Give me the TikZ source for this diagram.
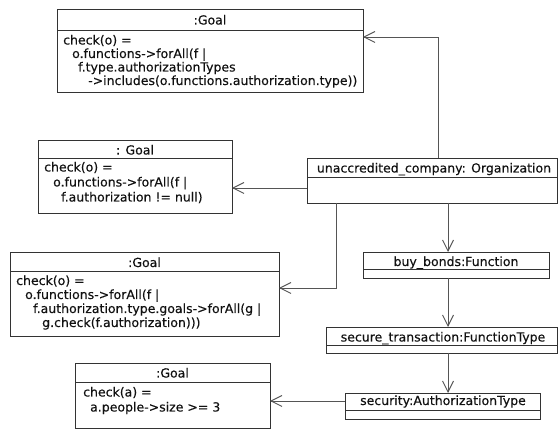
\documentclass[tikz,border=0pt]{standalone}
\usepackage{fontspec}
\setmainfont{DejaVu Sans}[FakeBold=0.25]
\usetikzlibrary{arrows.meta}
\definecolor{bordercol}{HTML}{333333}
\definecolor{conncol}{HTML}{555555}
\definecolor{txtcol}{HTML}{111111}
\newcommand\umlfont{\fontsize{12.5}{14}\selectfont}
\begin{document}
\begin{tikzpicture}[x=1pt,y=-1pt,
  umlbox/.style={draw=bordercol, line width=0.9pt, fill=white, anchor=north west, inner sep=0pt, outer sep=0pt},
  hdr/.style={font=\umlfont, text=txtcol, inner sep=0pt, anchor=base},
  lbl/.style={font=\umlfont, text=txtcol, inner sep=0pt, anchor=base west},
  sepline/.style={draw=bordercol, line width=0.9pt},
  conn/.style={draw=conncol, line width=0.9pt, -{Straight Barb[length=11pt,width=11pt,line width=0.9pt]}}]
\useasboundingbox (0,0) rectangle (558,430);
\fill[white] (0,0) rectangle (558,430);

% ---- Goal 1 ----
\node[umlbox, minimum width=306pt, minimum height=83pt] (g1) at (57,9) {};
\draw[sepline] ([yshift=-21pt]g1.north west) -- ([yshift=-21pt]g1.north east);
\node[hdr] (g1h) at (210,24.5) {:Goal};
\node[lbl] (g1a) at (63,44.5) {check(o) =};
\node[lbl] (g1b) at (72,58) {o.functions->forAll(f |};
\node[lbl] (g1c) at (78,71.5) {f.type.authorizationTypes};
\node[lbl] (g1d) at (88,85) {->includes(o.functions.authorization.type))};

% ---- Goal 2 ----
\node[umlbox, minimum width=194pt, minimum height=73pt] (g2) at (38,140) {};
\draw[sepline] ([yshift=-18pt]g2.north west) -- ([yshift=-18pt]g2.north east);
\node[hdr] (g2h) at (135,154.5) {: Goal};
\node[lbl] (g2a) at (44,171.5) {check(o) =};
\node[lbl] (g2b) at (53,186.5) {o.functions->forAll(f |};
\node[lbl] (g2c) at (61,201.5) {f.authorization != null)};

% ---- Goal 3 ----
\node[umlbox, minimum width=269pt, minimum height=84pt] (g3) at (10,252) {};
\draw[sepline] ([yshift=-19pt]g3.north west) -- ([yshift=-19pt]g3.north east);
\node[hdr] (g3h) at (144.5,267) {:Goal};
\node[lbl] (g3a) at (16,285) {check(o) =};
\node[lbl] (g3b) at (25,299) {o.functions->forAll(f |};
\node[lbl] (g3c) at (33,313) {f.authorization.type.goals->forAll(g |};
\node[lbl] (g3d) at (42,327) {g.check(f.authorization)))};

% ---- Goal 4 ----
\node[umlbox, minimum width=195pt, minimum height=65pt] (g4) at (75,363) {};
\draw[sepline] ([yshift=-19pt]g4.north west) -- ([yshift=-19pt]g4.north east);
\node[hdr] (g4h) at (172.5,377.5) {:Goal};
\node[lbl] (g4a) at (83,396.5) {check(a) =};
\node[lbl] (g4b) at (90,411.5) {a.people->size >= 3};

% ---- Organization ----
\node[umlbox, minimum width=250.5pt, minimum height=45pt] (org) at (307,158) {};
\draw[sepline] ([yshift=-19pt]org.north west) -- ([yshift=-19pt]org.north east);
\node[hdr] (orgh) at (434,172.5) {unaccredited\_company: Organization};

% ---- buy_bonds ----
\node[umlbox, minimum width=186pt, minimum height=26pt] (bb) at (363,252) {};
\draw[sepline] ([yshift=-17pt]bb.north west) -- ([yshift=-17pt]bb.north east);
\node[hdr] (bbh) at (456,266) {buy\_bonds:Function};

% ---- secure_transaction ----
\node[umlbox, minimum width=231.5pt, minimum height=26pt] (st) at (326,327) {};
\draw[sepline] ([yshift=-18pt]st.north west) -- ([yshift=-18pt]st.north east);
\node[hdr] (sth) at (443,341.5) {secure\_transaction:FunctionType};

% ---- security ----
\node[umlbox, minimum width=195pt, minimum height=26pt] (sec) at (345,393) {};
\draw[sepline] ([yshift=-17pt]sec.north west) -- ([yshift=-17pt]sec.north east);
\node[hdr] (sech) at (443,405) {security:AuthorizationType};

% ---- connector guide coordinates ----
\coordinate (xa) at (438,0);
\coordinate (xc) at (336,0);
\coordinate (xv) at (448,0);
\coordinate (ya) at (0,37);
\coordinate (yb) at (0,188);
\coordinate (yc) at (0,288);
\coordinate (yd) at (0,401);

% ---- connectors ----
\draw[conn] (org.north -| xa) |- (g1.east |- ya);
\draw[conn] (org.west |- yb) -- (g2.east |- yb);
\draw[conn] (org.south -| xc) |- (g3.east |- yc);
\draw[conn] (org.south -| xv) -- (bb.north -| xv);
\draw[conn] (bb.south -| xv) -- (st.north -| xv);
\draw[conn] (st.south -| xv) -- (sec.north -| xv);
\draw[conn] (sec.west |- yd) -- (g4.east |- yd);
\end{tikzpicture}
\end{document}
